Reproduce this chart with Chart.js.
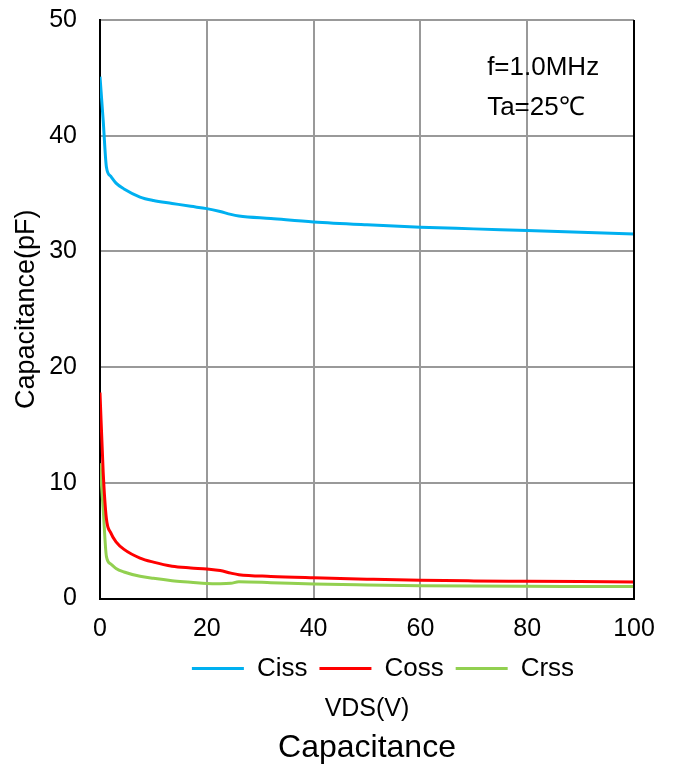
<!DOCTYPE html>
<html>
<head>
<meta charset="utf-8">
<script src="https://cdn.jsdelivr.net/npm/chart.js@4"></script>
<style>
html, body { margin: 0; padding: 0; background: #fff; }
</style>
</head>
<body>
<canvas id="chart" width="677" height="765"></canvas>
<script>
// VDS (V) sample points
const vds = [0, 0.6, 1.2, 2, 3, 4.5, 7.5, 10, 13.5, 17, 20, 22.5, 24.5, 26, 32, 40, 50, 60, 70, 80, 90, 100];
const ciss = [45.1, 41.3, 37.3, 36.5, 35.9, 35.4, 34.7, 34.4, 34.15, 33.9, 33.7, 33.45, 33.2, 33.07, 32.85, 32.55, 32.3, 32.1, 31.95, 31.8, 31.65, 31.5];
const coss = [17.8, 10.9, 6.9, 5.7, 4.9, 4.25, 3.5, 3.15, 2.8, 2.65, 2.55, 2.42, 2.2, 2.07, 1.92, 1.8, 1.68, 1.58, 1.53, 1.5, 1.47, 1.44];
const crss = [11.7, 7.7, 3.65, 3.0, 2.6, 2.3, 1.93, 1.75, 1.55, 1.42, 1.3, 1.28, 1.32, 1.45, 1.38, 1.26, 1.18, 1.12, 1.08, 1.06, 1.05, 1.04];
const seriesNames = ['Ciss', 'Coss', 'Crss'];
const seriesColors = ['#00B0F0', '#FF0000', '#92D050'];
const noteLines = ['f=1.0MHz', 'Ta=25\u2103'];

const FONT = 'Arial, "Liberation Sans", sans-serif';

const toPoints = (ys) => vds.map((x, i) => ({ x: x, y: ys[i] }));

const frameAndNote = {
    id: 'frameAndNote',
    afterLayout(chart) {
        // legend sits a bit right of the plot centre in the original
        chart.legend.left += 16;
        chart.legend.right += 16;
    },
    afterDraw(chart) {
        const { ctx, chartArea } = chart;
        ctx.save();
        // black right border
        ctx.strokeStyle = '#000';
        ctx.lineWidth = 2;
        ctx.beginPath();
        ctx.moveTo(chartArea.right, chartArea.top);
        ctx.lineTo(chartArea.right, chartArea.bottom + 1);
        ctx.stroke();
        // condition note
        const xs = chart.scales.x, ys = chart.scales.y;
        ctx.fillStyle = '#000';
        ctx.font = '26px ' + FONT;
        ctx.textBaseline = 'middle';
        ctx.textAlign = 'left';
        ctx.fillText(noteLines[0], xs.getPixelForValue(72.5), ys.getPixelForValue(45.85));
        ctx.fillText(noteLines[1], xs.getPixelForValue(72.5), ys.getPixelForValue(42.4));
        ctx.restore();
    }
};

const datasets = [ciss, coss, crss].map((ys, i) => ({
    label: seriesNames[i],
    data: toPoints(ys),
    borderColor: seriesColors[i],
    backgroundColor: seriesColors[i],
    borderWidth: 3,
    pointRadius: 0,
    cubicInterpolationMode: 'monotone',
    fill: false
}));

new Chart(document.getElementById('chart'), {
    type: 'line',
    data: { datasets },
    options: {
        responsive: false,
        animation: false,
        devicePixelRatio: 1,
        layout: { padding: { left: 4, right: 43, top: 20, bottom: 0 } },
        scales: {
            x: {
                type: 'linear',
                min: 0,
                max: 100,
                afterFit: (scale) => { scale.height = 45; },
                ticks: { stepSize: 20, color: '#000', padding: 16, font: { family: FONT, size: 25 } },
                grid: { color: '#999', lineWidth: 2, drawTicks: false },
                border: { color: '#000', width: 2 }
            },
            y: {
                min: 0,
                max: 50,
                afterFit: (scale) => {
                    scale.width = 96;
                    scale.paddingTop = 0;
                    scale.paddingBottom = 0;
                },
                ticks: { stepSize: 10, color: '#000', padding: 23, font: { family: FONT, size: 25 } },
                grid: { color: '#999', lineWidth: 2, drawTicks: false },
                border: { color: '#000', width: 2 },
                title: {
                    display: true,
                    text: 'Capacitance(pF)',
                    color: '#000',
                    font: { family: FONT, size: 27 },
                    padding: { top: 6, bottom: 0 }
                }
            }
        },
        plugins: {
            legend: {
                position: 'bottom',
                fullSize: false,
                labels: {
                    usePointStyle: true,
                    pointStyle: 'line',
                    pointStyleWidth: 52,
                    color: '#000',
                    padding: 12,
                    font: { family: FONT, size: 26 }
                }
            },
            subtitle: {
                display: true,
                position: 'bottom',
                fullSize: false,
                text: 'VDS(V)',
                color: '#000',
                font: { family: FONT, size: 25, weight: 'normal' },
                padding: { top: 3, bottom: 0 }
            },
            title: {
                display: true,
                position: 'bottom',
                fullSize: false,
                text: 'Capacitance',
                color: '#000',
                font: { family: FONT, size: 32, weight: 'normal' },
                padding: { top: 4, bottom: -2 }
            },
            tooltip: { enabled: false }
        }
    },
    plugins: [frameAndNote]
});
</script>
</body>
</html>
